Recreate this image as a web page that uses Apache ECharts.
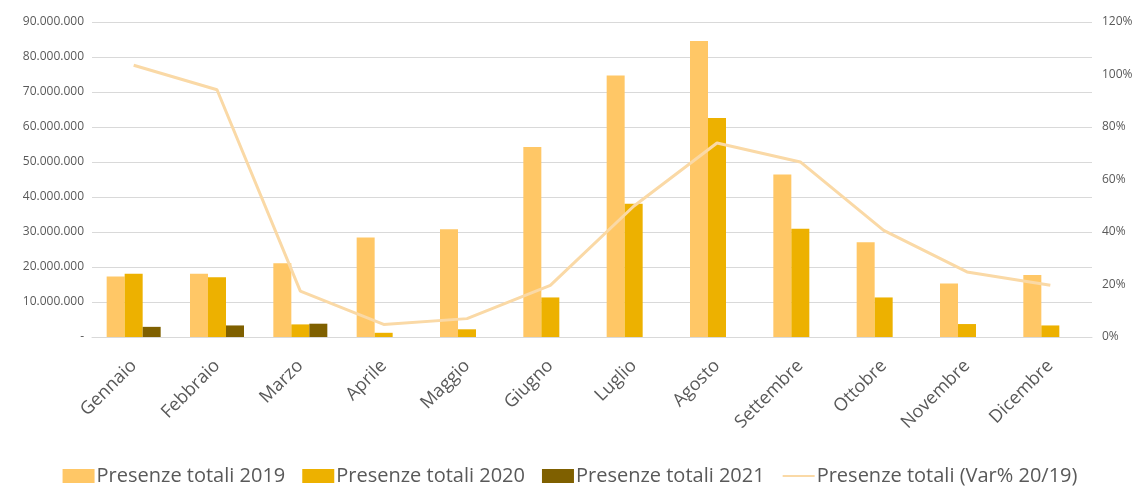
<!DOCTYPE html>
<html>
<head>
<meta charset="utf-8">
<script src="https://cdn.jsdelivr.net/npm/echarts@6/dist/echarts.min.js"></script>
<style>
    html, body { margin: 0; padding: 0; background: #fff; }
    #chart { width: 1140px; height: 487px; }
</style>
</head>
<body>
<div id="chart"></div>
<script>
    var mesi = ['Gennaio', 'Febbraio', 'Marzo', 'Aprile', 'Maggio', 'Giugno',
        'Luglio', 'Agosto', 'Settembre', 'Ottobre', 'Novembre', 'Dicembre'];

    // presenze
    var presenze2019 = [17300000, 18100000, 21100000, 28400000, 30800000, 54300000,
        74700000, 84600000, 46400000, 27100000, 15300000, 17700000];
    var presenze2020 = [18100000, 17100000, 3600000, 1200000, 2200000, 11300000,
        38100000, 62600000, 30900000, 11300000, 3700000, 3300000];
    var presenze2021 = [2900000, 3300000, 3800000, null, null, null,
        null, null, null, null, null, null];
    // variazione % 20/19
    var varPerc = [103.5, 94.2, 17.5, 4.8, 7, 19.7, 49.8, 73.9, 66.7, 40.6, 24.8, 19.7];

    var FONT = '"Open Sans", "Noto Sans", sans-serif';
    var TXT = '#595959';

    function formatMigliaia(v) {
        if (v === 0) return '-';
        return String(v).replace(/\B(?=(\d{3})+(?!\d))/g, '.');
    }

    var myChart = echarts.init(document.getElementById('chart'));
    var option = {
        animation: false,
        textStyle: { fontFamily: FONT },
        grid: {
            left: 92,
            right: 48,
            top: 22,
            bottom: 150
        },
        legend: {
            bottom: -4,
            left: 'center',
            itemGap: 17,
            itemWidth: 32,
            itemHeight: 14,
            textStyle: { color: TXT, fontSize: 20, fontFamily: FONT, padding: [0, 0, 0, -3] },
            data: [
                { name: 'Presenze totali 2019', icon: 'rect' },
                { name: 'Presenze totali 2020', icon: 'rect' },
                { name: 'Presenze totali 2021', icon: 'rect' },
                { name: 'Presenze totali (Var% 20/19)', itemStyle: { opacity: 0 } }
            ]
        },
        xAxis: [{
            type: 'category',
            data: mesi,
            axisLine: { lineStyle: { color: '#d9d9d9' } },
            axisTick: { show: false },
            axisLabel: {
                rotate: 45,
                color: TXT,
                fontSize: 18,
                margin: 26,
                interval: 0
            }
        }],
        yAxis: [{
            type: 'value',
            min: 0,
            max: 90000000,
            interval: 10000000,
            axisLine: { show: false },
            axisTick: { show: false },
            splitLine: { lineStyle: { color: '#d9d9d9' } },
            axisLabel: {
                color: TXT,
                fontSize: 12,
                margin: 8,
                formatter: formatMigliaia
            }
        }, {
            type: 'value',
            min: 0,
            max: 120,
            interval: 20,
            axisLine: { show: false },
            axisTick: { show: false },
            splitLine: { show: false },
            axisLabel: {
                color: TXT,
                fontSize: 12,
                margin: 10,
                formatter: '{value}%'
            }
        }],
        series: [{
            name: 'Presenze totali 2019',
            type: 'bar',
            barWidth: 18,
            barGap: '0%',
            itemStyle: { color: '#FFC766' },
            data: presenze2019
        }, {
            name: 'Presenze totali 2020',
            type: 'bar',
            barWidth: 18,
            barGap: '0%',
            itemStyle: { color: '#EDB100' },
            data: presenze2020
        }, {
            name: 'Presenze totali 2021',
            type: 'bar',
            barWidth: 18,
            barGap: '0%',
            itemStyle: { color: '#7F6000' },
            data: presenze2021
        }, {
            name: 'Presenze totali (Var% 20/19)',
            type: 'line',
            yAxisIndex: 1,
            symbol: 'none',
            lineStyle: { color: '#FAD9A6', width: 3 },
            itemStyle: { color: '#FAD9A6' },
            data: varPerc
        }]
    };
    myChart.setOption(option);
</script>
</body>
</html>
